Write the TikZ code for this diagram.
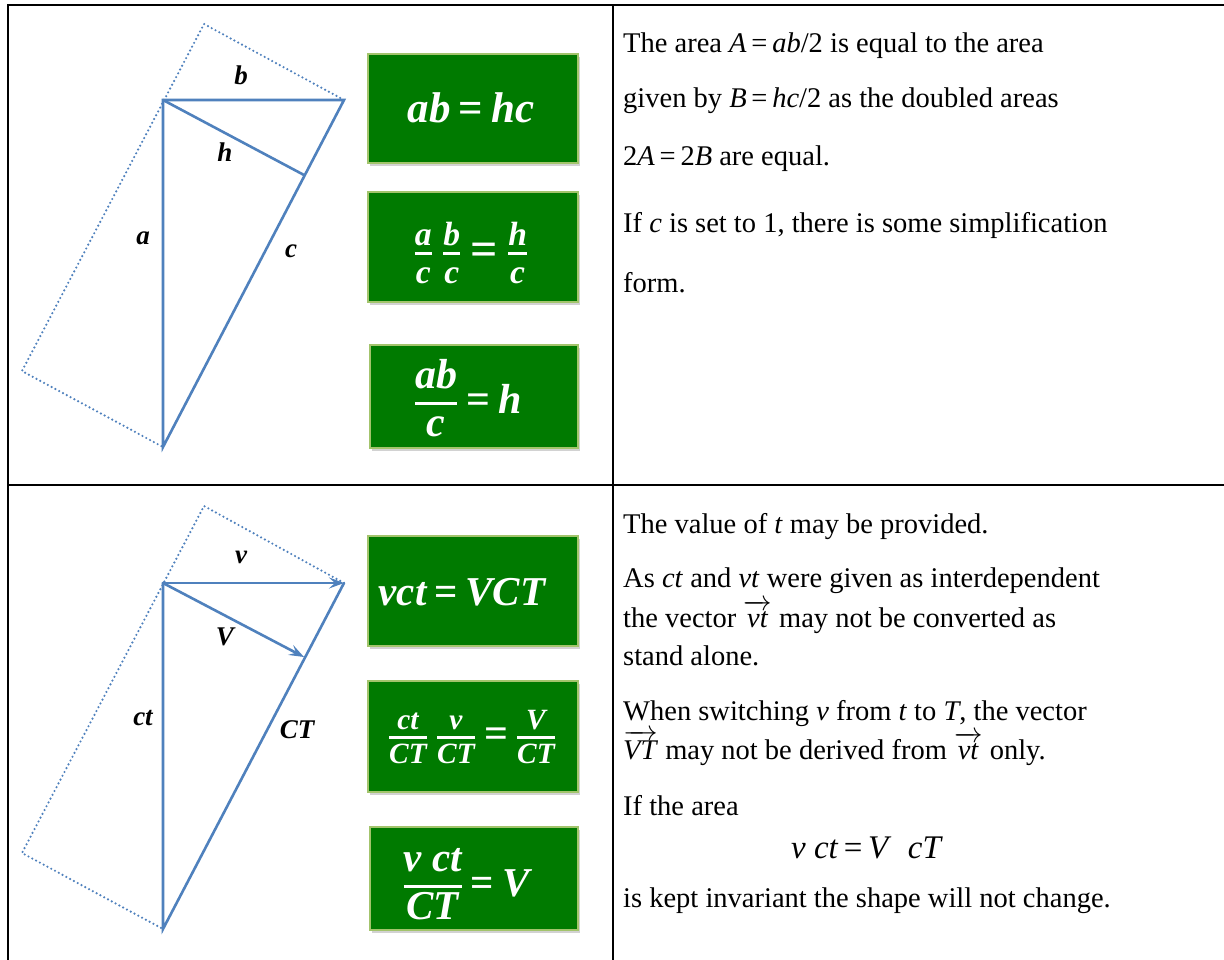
\documentclass[tikz,border=0pt]{standalone}
\usepackage{amsmath}
\usepackage{fontspec}
\setmainfont{Liberation Serif}
\DeclareFontShape{OML}{cmm}{m}{it}{<->cmmi10}{\skewchar\font'177}
\DeclareFontShape{OML}{cmm}{b}{it}{<->cmmib10}{\skewchar\font'177}
\DeclareFontShape{OMS}{cmsy}{m}{n}{<->cmsy10}{\skewchar\font'60}
\DeclareFontShape{OMS}{cmsy}{b}{n}{<->cmbsy10}{\skewchar\font'60}
\DeclareFontShape{OMX}{cmex}{m}{n}{<->cmex10}{}
\DeclareFontShape{OT1}{cmr}{m}{n}{<->cmr10}{}
\DeclareFontShape{OT1}{cmr}{bx}{n}{<->cmbx10}{}
\usetikzlibrary{shadows,arrows.meta}
\definecolor{lineblue}{HTML}{4F81BD}
\definecolor{boxgreen}{HTML}{007A00}
\definecolor{boxedge}{HTML}{A3C46C}
\newcommand{\vi}[1]{\textit{#1}}
\newcommand{\eqs}{\,=\,}
\newcommand{\vecto}[1]{$\overrightarrow{\text{\textit{#1}}}$}
\newcommand{\g}[1]{\text{\bfseries\itshape #1}}
\newcommand{\gq}{\mskip3mu\text{\bfseries =}\mskip3mu}
\newcommand{\gfs}[2]{\genfrac{}{}{3pt}{1}{\g{#1}}{\g{#2}}}
\newcommand{\gfl}[2]{\genfrac{}{}{3pt}{1}{\textstyle\g{#1}\vphantom{(}}{\textstyle\g{#2}\vphantom{l}}}
\begin{document}
\begin{tikzpicture}[x=1pt,y=-1pt,
  tri/.style={draw=lineblue, line width=2.6pt, line cap=round},
  dotline/.style={draw=lineblue, line width=2.4pt, line cap=round, dash pattern=on 0pt off 4.3pt},
  vecarrow/.style={tri, -{Stealth[length=15pt,width=11pt,inset=6pt]}},
  lab/.style={font=\fontsize{27}{30}\selectfont\bfseries\itshape, inner sep=0pt},
  eqbox/.style={fill=boxgreen, draw=boxedge, line width=1.5pt, inner sep=0pt,
    drop shadow={opacity=0.35, shadow xshift=1.5pt, shadow yshift=-3pt}},
  eqtext/.style={text=white, font=\fontsize{43}{48}\selectfont\boldmath, inner sep=0pt},
  body/.style={anchor=base west, inner sep=0pt, font=\fontsize{28.5}{32}\selectfont},
  rule/.style={draw=black, line width=2.6pt}
]
\useasboundingbox (0,0) rectangle (1224,960);
\fill[white] (0,0) rectangle (1224,960);
% table frame
\draw[rule] (1224,5) -- (8,5) -- (8,960);
\draw[rule] (8,485) -- (1224,485);
\draw[rule] (613,5) -- (613,960);

% ---------- top figure ----------
\coordinate (P1) at (163,100);
\coordinate (Q1) at (344,100);
\coordinate (R1) at (163,447);
\coordinate (F1) at (304,175);
\coordinate (T1) at (204,24);
\coordinate (L1) at (22,371);
\draw[dotline] (Q1) -- (T1) -- (L1) -- (R1);
\draw[tri] (P1) -- (Q1) -- (R1) -- cycle;
\draw[tri] (P1) -- (F1);
\node[lab] (lb) at (241,75) {b};
\node[lab] (lh) at (225,152) {h};
\node[lab] (la) at (143,238) {a};
\node[lab] (lc) at (291,251) {c};

\node[eqbox, minimum width=210, minimum height=109] (b1) at (473,108.5) {};
\node[eqtext] (e1) at (471,108) {$\g{ab}\gq\g{hc}$};
\node[eqbox, minimum width=210, minimum height=110] (b2) at (473,247) {};
\node[eqtext, font=\fontsize{48}{52}\selectfont\boldmath] (e2) at (471,253) {$\gfs{a}{c}\,\gfs{b}{c}\gq\gfs{h}{c}$};
\node[eqbox, minimum width=208, minimum height=103] (b3) at (474,396.5) {};
\node[eqtext, font=\fontsize{42}{46}\selectfont\boldmath] (e3) at (468,397) {$\gfl{ab}{c}\gq\g{h}$};

\node[body] (t1) at (623,53) {The area \vi{A}\eqs\vi{ab}/2 is equal to the area};
\node[body] (t2) at (623,108) {given by \vi{B}\eqs\vi{hc}/2 as the doubled areas};
\node[body] (t3) at (623,166) {2\vi{A}\eqs2\vi{B} are equal.};
\node[body] (t4) at (623,233) {If \vi{c} is set to 1, there is some simplification};
\node[body] (t5) at (623,293) {form.};

% ---------- bottom figure ----------
\coordinate (P2) at (163,583);
\coordinate (Q2) at (344,583);
\coordinate (R2) at (163,929);
\coordinate (F2) at (304,657);
\coordinate (T2) at (204,506);
\coordinate (L2) at (22,853);
\draw[dotline] (Q2) -- (T2) -- (L2) -- (R2);
\draw[tri] (P2) -- (R2) -- (Q2);
\draw[vecarrow] (P2) -- (Q2);
\draw[vecarrow] (P2) -- (F2);
\node[lab] (lv) at (241,557) {v};
\node[lab] (lV) at (225,637) {V};
\node[lab] (lct) at (143,718) {ct};
\node[lab] (lCT) at (297,730) {CT};

\node[eqbox, minimum width=210, minimum height=110] (b4) at (473,591) {};
\node[eqtext, font=\fontsize{41}{46}\selectfont\boldmath] (e4) at (462,592) {$\g{vct}\gq\g{VCT}$};
\node[eqbox, minimum width=210, minimum height=111] (b5) at (473,736.5) {};
\node[eqtext, font=\fontsize{42}{46}\selectfont\boldmath] (e5) at (472,737) {$\gfs{ct}{CT}\,\gfs{v}{CT}\gq\gfs{V}{CT}$};
\node[eqbox, minimum width=208, minimum height=103] (b6) at (474,878.5) {};
\node[eqtext, font=\fontsize{41}{46}\selectfont\boldmath] (e6) at (466,880) {$\gfl{v ct}{CT}\gq\g{V}$};

\node[body] (s1) at (623,533) {The value of \vi{t} may be provided.};
\node[body] (s2) at (623,587) {As \vi{ct} and \vi{vt} were given as interdependent};
\node[body] (s3) at (623,627) {the vector \vecto{vt} may not be converted as};
\node[body] (s4) at (623,665) {stand alone.};
\node[body] (s5) at (623,720) {When switching \vi{v} from \vi{t} to \vi{T}, the vector};
\node[body] (s6) at (623,759) {\vecto{VT} may not be derived from \vecto{vt} only.};
\node[body] (s7) at (623,815) {If the area};
\node[body, anchor=base, font=\fontsize{33}{36}\selectfont] (s8) at (867,858) {\vi{v}~\vi{ct}\eqs\vi{V}~~\vi{cT}};
\node[body] (s9) at (623,907) {is kept invariant the shape will not change.};
\end{tikzpicture}
\end{document}
